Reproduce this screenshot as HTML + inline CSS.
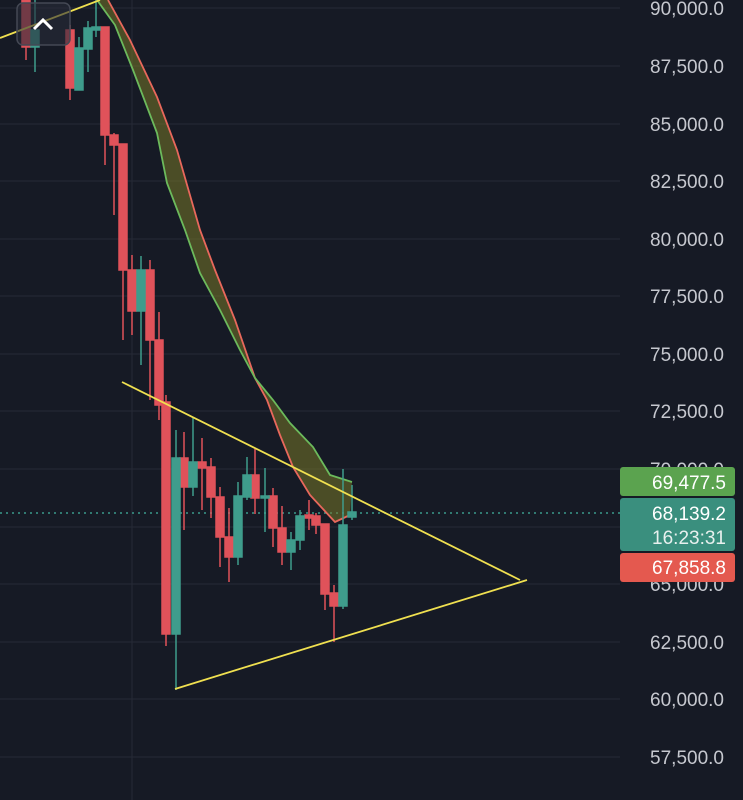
<!DOCTYPE html>
<html><head><style>
body{margin:0;background:#161a25;}
svg{display:block}
text{font-family:"Liberation Sans",sans-serif;}
</style></head><body>
<svg width="743" height="800" viewBox="0 0 743 800" xmlns="http://www.w3.org/2000/svg">
<rect width="743" height="800" fill="#161a25"/>
<g stroke="#262a36" stroke-width="1">
<line x1="0" y1="8" x2="620" y2="8"/><line x1="0" y1="66" x2="620" y2="66"/><line x1="0" y1="124" x2="620" y2="124"/><line x1="0" y1="181" x2="620" y2="181"/><line x1="0" y1="239" x2="620" y2="239"/><line x1="0" y1="296" x2="620" y2="296"/><line x1="0" y1="354" x2="620" y2="354"/><line x1="0" y1="411" x2="620" y2="411"/><line x1="0" y1="469" x2="620" y2="469"/><line x1="0" y1="527" x2="620" y2="527"/><line x1="0" y1="584" x2="620" y2="584"/><line x1="0" y1="642" x2="620" y2="642"/><line x1="0" y1="699" x2="620" y2="699"/><line x1="0" y1="757" x2="620" y2="757"/>
<line x1="132" y1="0" x2="132" y2="800"/>
</g>
<g fill="#c6c8cf" font-size="19" text-anchor="end">
<text x="724" y="15">90,000.0</text><text x="724" y="73">87,500.0</text><text x="724" y="131">85,000.0</text><text x="724" y="188">82,500.0</text><text x="724" y="246">80,000.0</text><text x="724" y="303">77,500.0</text><text x="724" y="361">75,000.0</text><text x="724" y="418">72,500.0</text><text x="724" y="476">70,000.0</text><text x="724" y="591">65,000.0</text><text x="724" y="649">62,500.0</text><text x="724" y="706">60,000.0</text><text x="724" y="764">57,500.0</text>
</g>
<line x1="0" y1="513" x2="620" y2="513" stroke="#3a9a8c" stroke-width="1.5" stroke-dasharray="2,4"/>
<path d="M108,0 L130,40 L157,97 L177,150 L200,230 L215,270 L235,320 L255,378 L267,400 L280,435 L293,467 L310,495 L335,522 L350,515 L352,482 L330,475 L313,447 L290,423 L273,400 L255,378 L240,350 L220,310 L200,273 L185,230 L167,183 L157,133 L133,70 L115,25 L97,0 Z" fill="rgba(120,120,40,0.55)"/>
<polyline points="108,0 130,40 157,97 177,150 200,230 215,270 235,320 255,378 267,400 280,435 293,467 310,495 335,522 350,515" fill="none" stroke="#e8685c" stroke-width="1.8"/>
<polyline points="97,0 115,25 133,70 157,133 167,183 185,230 200,273 220,310 240,350 255,378 273,400 290,423 313,447 330,475 352,482" fill="none" stroke="#6cba5c" stroke-width="1.8"/>
<g stroke-width="1.5">
<g stroke="#e0525a" fill="#e0525a">
<line x1="26" y1="0" x2="26" y2="60"/><rect x="22" y="0" width="8" height="47"/>
<line x1="70" y1="25" x2="70" y2="100"/><rect x="66" y="30" width="8" height="58"/>
<line x1="105" y1="27" x2="105" y2="165"/><rect x="101" y="27" width="8" height="108"/>
<line x1="114" y1="133" x2="114" y2="215"/><rect x="110" y="135" width="8" height="10"/>
<line x1="123" y1="144" x2="123" y2="340"/><rect x="119" y="144" width="8" height="126"/>
<line x1="132" y1="255" x2="132" y2="335"/><rect x="128" y="270" width="8" height="41"/>
<line x1="150" y1="260" x2="150" y2="400"/><rect x="146" y="270" width="8" height="70"/>
<line x1="159" y1="312" x2="159" y2="420"/><rect x="155" y="340" width="8" height="65"/>
<line x1="166" y1="395" x2="166" y2="646"/><rect x="162" y="402" width="8" height="232"/>
<line x1="184" y1="432" x2="184" y2="530"/><rect x="180" y="458" width="8" height="29"/>
<line x1="202" y1="438" x2="202" y2="510"/><rect x="198" y="462" width="8" height="6"/>
<line x1="211" y1="458" x2="211" y2="518"/><rect x="207" y="467" width="8" height="30"/>
<line x1="220" y1="487" x2="220" y2="567"/><rect x="216" y="497" width="8" height="40"/>
<line x1="229" y1="508" x2="229" y2="582"/><rect x="225" y="537" width="8" height="20"/>
<line x1="255" y1="449" x2="255" y2="514"/><rect x="251" y="475" width="8" height="23"/>
<line x1="273" y1="488" x2="273" y2="547"/><rect x="269" y="496" width="8" height="32"/>
<line x1="282" y1="506" x2="282" y2="565"/><rect x="278" y="528" width="8" height="24"/>
<line x1="309" y1="500" x2="309" y2="530"/><rect x="305" y="515" width="8" height="3"/>
<line x1="316" y1="513" x2="316" y2="534"/><rect x="312" y="516" width="8" height="9"/>
<line x1="325" y1="524" x2="325" y2="610"/><rect x="321" y="524" width="8" height="70"/>
<line x1="334" y1="585" x2="334" y2="642"/><rect x="330" y="593" width="8" height="13"/>
</g>
<g stroke="#3f9c8c" fill="#3f9c8c">
<line x1="35" y1="0" x2="35" y2="72"/><rect x="31" y="30" width="8" height="17"/>
<line x1="79" y1="37" x2="79" y2="90"/><rect x="75" y="48" width="8" height="42"/>
<line x1="88" y1="21" x2="88" y2="72"/><rect x="84" y="28" width="8" height="21"/>
<line x1="96" y1="0" x2="96" y2="37"/><rect x="92" y="27" width="8" height="3"/>
<line x1="141" y1="256" x2="141" y2="365"/><rect x="137" y="270" width="8" height="41"/>
<line x1="176" y1="430" x2="176" y2="690"/><rect x="172" y="458" width="8" height="176"/>
<line x1="193" y1="418" x2="193" y2="496"/><rect x="189" y="462" width="8" height="25"/>
<line x1="238" y1="482" x2="238" y2="565"/><rect x="234" y="496" width="8" height="61"/>
<line x1="247" y1="457" x2="247" y2="500"/><rect x="243" y="475" width="8" height="22"/>
<line x1="265" y1="468" x2="265" y2="532"/><rect x="261" y="496" width="8" height="2"/>
<line x1="291" y1="532" x2="291" y2="570"/><rect x="287" y="540" width="8" height="12"/>
<line x1="300" y1="510" x2="300" y2="550"/><rect x="296" y="516" width="8" height="24"/>
<line x1="343" y1="469" x2="343" y2="609"/><rect x="339" y="525" width="8" height="81"/>
<line x1="352" y1="485" x2="352" y2="520"/><rect x="348" y="512" width="8" height="5"/>
</g>
</g>
<g stroke="#f0e050" stroke-width="1.8" fill="none">
<line x1="0" y1="38" x2="100" y2="0"/>
<line x1="122" y1="382" x2="520" y2="580"/>
<line x1="175" y1="689" x2="527" y2="580"/>
</g>
<rect x="17" y="3" width="53" height="42" rx="6" fill="rgba(40,44,56,0.6)" stroke="#444854" stroke-width="1.5"/>
<polyline points="34,29 43,20 52,29" fill="none" stroke="#fff" stroke-width="3"/>
<rect x="620" y="467" width="115" height="29" rx="3" fill="#5ba34f"/>
<text x="726" y="489" fill="#fff" font-size="19" text-anchor="end">69,477.5</text>
<rect x="620" y="498" width="115" height="53" rx="3" fill="#3a8f7e"/>
<text x="726" y="520" fill="#fff" font-size="19" text-anchor="end">68,139.2</text>
<text x="726" y="544" fill="#e8f0ee" font-size="19" text-anchor="end">16:23:31</text>
<rect x="620" y="553" width="115" height="29" rx="3" fill="#e4594f"/>
<text x="726" y="574" fill="#fff" font-size="19" text-anchor="end">67,858.8</text>
</svg>
</body></html>
